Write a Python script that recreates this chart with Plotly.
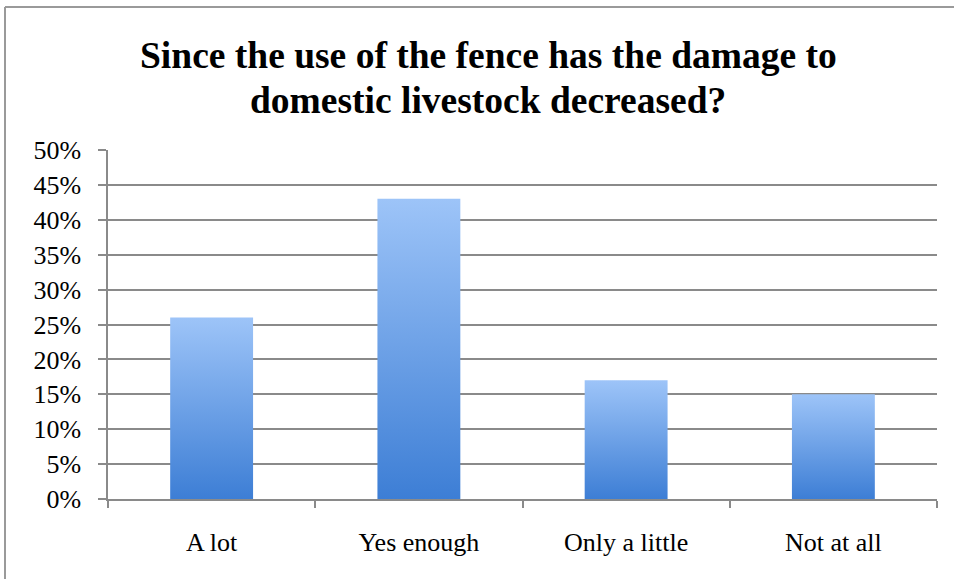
import plotly.graph_objects as go

categories = ["A lot", "Yes enough", "Only a little", "Not at all"]
values = [0.26, 0.43, 0.17, 0.15]
y_ticks = [0, 0.05, 0.10, 0.15, 0.20, 0.25, 0.30, 0.35, 0.40, 0.45, 0.50]
title_lines = ["Since the use of the fence has the damage to", "domestic livestock decreased?"]

W, H = 954, 579
ML, MR, MT, MB = 108, 17, 150, 80
bar_width = 0.4
grad = [[0, "#3d7ed5"], [1, "#9dc4f8"]]

fig = go.Figure()
# invisible bars to define categorical axis
fig.add_trace(go.Bar(x=categories, y=values, opacity=0, hoverinfo="skip", showlegend=False))

for i, v in enumerate(values):
    x0, x1 = i - bar_width / 2, i + bar_width / 2
    fig.add_trace(go.Scatter(
        x=[x0, x1, x1, x0, x0], y=[0, 0, v, v, 0],
        xaxis="x2", mode="lines", line=dict(width=0),
        fill="toself",
        fillgradient=dict(type="vertical", colorscale=grad),
        showlegend=False, hoverinfo="skip",
    ))

pw = W - ML - MR
ph = H - MT - MB
def px_x(p):
    return (p - ML) / pw
def px_y(p):
    return (H - MB - p) / ph

font_family = "Liberation Serif"
title_font = dict(family="Liberation Serif", size=37.5, color="black", weight="bold")
annotations = [
    dict(text=title_lines[0], x=px_x(488), y=px_y(55), xref="paper", yref="paper",
         xanchor="center", yanchor="middle", showarrow=False, font=title_font),
    dict(text=title_lines[1], x=px_x(488), y=px_y(100), xref="paper", yref="paper",
         xanchor="center", yanchor="middle", showarrow=False, font=title_font),
]

fig.update_layout(
    width=W, height=H,
    margin=dict(l=ML, r=MR, t=MT, b=MB),
    paper_bgcolor="white", plot_bgcolor="white",
    annotations=annotations,
    font=dict(family=font_family, size=26, color="black"),
    xaxis=dict(type="category", tickson="boundaries", ticks="outside", ticklen=7,
               tickcolor="#8a8a8a", tickwidth=1.5, showline=True, linecolor="#8a8a8a",
               linewidth=1.5, showgrid=False, range=[-0.5, 3.5], fixedrange=True,
               ticklabelstandoff=19,
               tickfont=dict(size=26, family=font_family, color="black")),
    xaxis2=dict(overlaying="x", range=[-0.5, 3.5], visible=False, fixedrange=True),
    yaxis=dict(range=[0, 0.5], tickvals=y_ticks, tickformat=".0%", ticks="outside",
               ticklen=8, tickcolor="#8a8a8a", tickwidth=1.5, showline=True,
               linecolor="#8a8a8a", linewidth=1.5, showgrid=True, gridcolor="#8a8a8a",
               gridwidth=1.5, zeroline=False, ticklabelstandoff=12,
               tickfont=dict(size=26, family=font_family, color="black")),
    shapes=[
        dict(type="line", xref="paper", yref="paper", x0=px_x(5), x1=px_x(W),
             y0=px_y(7), y1=px_y(7), line=dict(color="#9a9a9a", width=2)),
        dict(type="line", xref="paper", yref="paper", x0=px_x(5), x1=px_x(5),
             y0=px_y(7), y1=px_y(H), line=dict(color="#9a9a9a", width=2)),
    ],
)

fig.write_html("out.html")
